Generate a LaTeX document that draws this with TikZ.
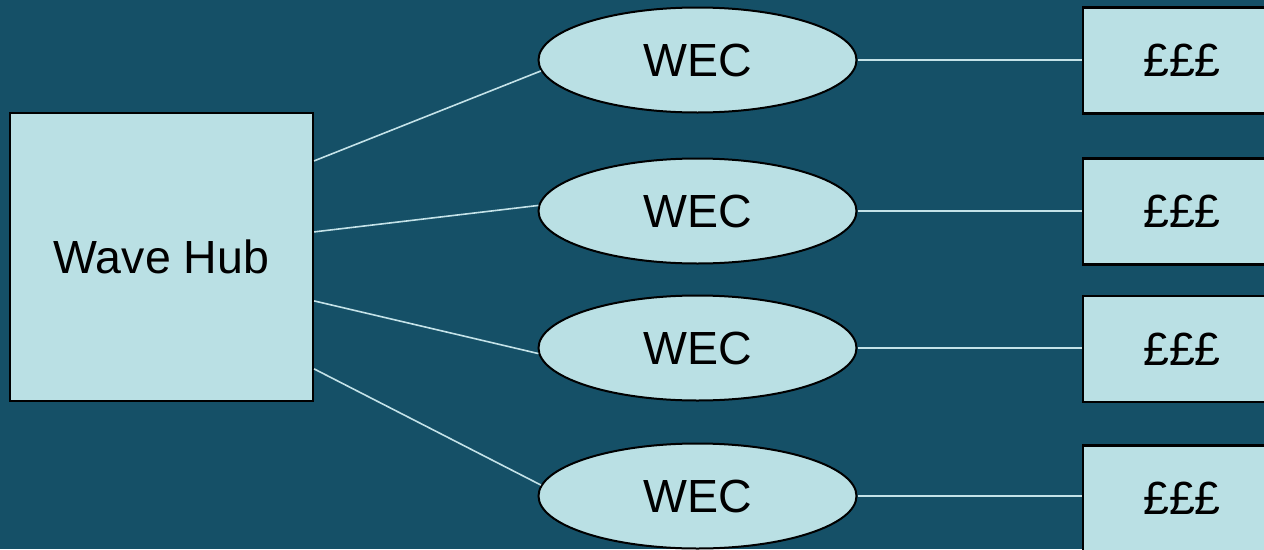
\documentclass[tikz,border=0pt]{standalone}
\usepackage{fontspec}
\setmainfont{Liberation Sans}
\usetikzlibrary{shapes.geometric,calc}
\definecolor{bgcol}{RGB}{21,80,103}
\definecolor{fillcol}{RGB}{186,224,228}
\definecolor{linecol}{RGB}{196,226,232}
\tikzset{
  txt/.style={font=\fontsize{46.5}{54}\selectfont, text=black},
  hubbox/.style={txt, draw=black, line width=2.2pt, fill=fillcol, rectangle, inner sep=0pt, minimum width=303pt, minimum height=288pt},
  wec/.style={txt, draw=black, line width=2pt, fill=fillcol, ellipse, inner sep=0pt, minimum width=318pt, minimum height=105pt},
  money/.style={txt, draw=black, line width=2.2pt, fill=fillcol, rectangle, inner sep=0pt, minimum width=198pt, minimum height=106pt},
  link/.style={draw=linecol, line width=1.6pt}
}
\begin{document}
\begin{tikzpicture}[x=1pt,y=-1pt]
\useasboundingbox (0,0) rectangle (1264,549);
\clip (0,0) rectangle (1264,549);
\fill[bgcol] (0,0) rectangle (1264,549);

\node[hubbox] (hub) at (161.5,257) {Wave Hub};

\node[wec] (w1) at (697.5,60) {WEC};
\node[wec] (w2) at (697.5,211) {WEC};
\node[wec] (w3) at (697.5,348) {WEC};
\node[wec] (w4) at (697.5,496) {WEC};

\node[money] (m1) at (1182,60.5) {£££};
\node[money] (m2) at (1182,211.5) {£££};
\node[money] (m3) at (1182,349) {£££};
\node[money] (m4) at (1182,498.5) {£££};

\coordinate (h1) at ($(hub.north east)+(0,49)$);
\coordinate (h2) at ($(hub.north east)+(0,120)$);
\coordinate (h3) at ($(hub.north east)+(0,189)$);
\coordinate (h4) at ($(hub.north east)+(0,257)$);

\begin{scope}[on background layer/.style={}]
\draw[link] (h1) -- (w1.184);
\draw[link] (h2) -- (w2.178);
\draw[link] (h3) -- (w3.182);
\draw[link] (h4) -- (w4.176);
\draw[link] (w1.east) -- (m1.west |- w1.east);
\draw[link] (w2.east) -- (m2.west |- w2.east);
\draw[link] (w3.east) -- (m3.west |- w3.east);
\draw[link] (w4.east) -- (m4.west |- w4.east);
\end{scope}
\end{tikzpicture}
\end{document}
